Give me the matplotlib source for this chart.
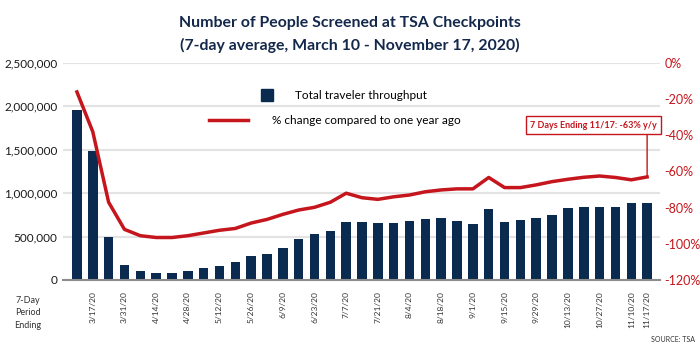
import numpy as np
import matplotlib
matplotlib.use('Agg')
import matplotlib.pyplot as plt
from matplotlib.lines import Line2D
from matplotlib.ticker import FuncFormatter

plt.rcParams['font.family'] = ['Lato', 'DejaVu Sans']

# weeks (7-day period ending), March 10 - November 17, 2020
weeks = ['3/10/20', '3/17/20', '3/24/20', '3/31/20', '4/7/20', '4/14/20', '4/21/20',
         '4/28/20', '5/5/20', '5/12/20', '5/19/20', '5/26/20', '6/2/20', '6/9/20',
         '6/16/20', '6/23/20', '6/30/20', '7/7/20', '7/14/20', '7/21/20', '7/28/20',
         '8/4/20', '8/11/20', '8/18/20', '8/25/20', '9/1/20', '9/8/20', '9/15/20',
         '9/22/20', '9/29/20', '10/6/20', '10/13/20', '10/20/20', '10/27/20',
         '11/3/20', '11/10/20', '11/17/20']
shown_labels = ['3/17/20', '3/31/20', '4/14/20', '4/28/20', '5/12/20', '5/26/20',
                '6/9/20', '6/23/20', '7/7/20', '7/21/20', '8/4/20', '8/18/20',
                '9/1/20', '9/15/20', '9/29/20', '10/13/20', '10/27/20', '11/10/20',
                '11/17/20']

throughput = [1958000, 1490000, 495000, 173000, 108000, 77000, 77000, 100000,
              138000, 165000, 207000, 273000, 296000, 372000, 468000, 530000,
              565000, 664000, 664000, 653000, 653000, 680000, 699000, 711000,
              683000, 645000, 820000, 672000, 691000, 718000, 749000, 833000,
              845000, 845000, 845000, 891000, 891000]

pct_change = [-16, -38, -77, -92, -95.5, -96.5, -96.5, -95.5, -94, -92.5, -91.5,
              -88.5, -86.5, -83.7, -81.3, -79.8, -77, -72, -74.5, -75.4, -74,
              -73, -71.2, -70.2, -69.6, -69.6, -63.3, -68.9, -68.9, -67.4, -65.6,
              -64.3, -63.2, -62.5, -63.3, -64.6, -63]

callout = '7 Days Ending 11/17: -63% y/y'

navy = '#0b2a50'
red = '#c4161c'
grid_c = '#e3e3e3'

x = np.arange(len(weeks))

fig = plt.figure(figsize=(7, 3.5), dpi=100)
ax = fig.add_axes([0.09, 0.2, 0.853, 0.62])

ax.bar(x, throughput, width=0.6, color=navy, zorder=3)
ax.set_ylim(0, 2500000)
ax.set_yticks(np.arange(0, 2500001, 500000))
ax.yaxis.set_major_formatter(FuncFormatter(lambda v, p: '{:,.0f}'.format(v)))
ax.set_xlim(-0.88, 36.82)
ax.grid(axis='y', color=grid_c, linewidth=1.5, zorder=0)
ax.set_axisbelow(True)
for s in ['top', 'left', 'right']:
    ax.spines[s].set_visible(False)
ax.spines['bottom'].set_color('#8c8c8c')
ax.spines['bottom'].set_linewidth(1.5)
ax.spines['bottom'].set_zorder(4)
ax.tick_params(axis='y', length=0, labelsize=8.5, colors='#1a1a1a', pad=4)

ticks = [weeks.index(w) for w in shown_labels]
ax.set_xticks(ticks)
ax.set_xticklabels(shown_labels, rotation=90, fontsize=6, color='#333333')
ax.tick_params(axis='x', length=0, pad=8)

ax2 = ax.twinx()
ax2.plot(x, pct_change, color=red, linewidth=2.5, zorder=5)
ax2.set_ylim(-120, 0)
ax2.set_yticks(np.arange(-120, 1, 20))
ax2.yaxis.set_major_formatter(FuncFormatter(lambda v, p: '{:.0f}%'.format(v)))
ax2.tick_params(axis='y', length=0, labelsize=9, colors=red, pad=3)
for s in ['top', 'left', 'right', 'bottom']:
    ax2.spines[s].set_visible(False)

# legend, two centred rows
leg1 = ax2.legend(handles=[Line2D([], [], marker='s', color=navy, linestyle='',
                                  markersize=8)],
                  labels=['Total traveler throughput'], loc='center',
                  bbox_to_anchor=(0.466, 0.848), frameon=False, fontsize=8.5,
                  handletextpad=1.4)
ax2.add_artist(leg1)
ax2.legend(handles=[Line2D([], [], color=red, linewidth=2.5)],
           labels=['% change compared to one year ago'], loc='center',
           bbox_to_anchor=(0.455, 0.733), frameon=False, fontsize=8.5,
           handlelength=3.3, handletextpad=2.0)

# callout for latest week
ax2.annotate('', xy=(x[-1], pct_change[-1]), xytext=(x[-1], -38.7),
             arrowprops=dict(arrowstyle='-', color=red, lw=1,
                             shrinkA=0, shrinkB=0))
ax2.text(x[-1] + 0.62, -34.3, callout, ha='right', va='center', fontsize=6.5,
         fontweight='bold', color=red, zorder=6,
         bbox=dict(boxstyle='square,pad=0.5', fc='white', ec=red, lw=1))

fig.text(0.5, 0.934, 'Number of People Screened at TSA Checkpoints',
         ha='center', va='center', fontsize=11.4, fontweight='bold', color='#14284b')
fig.text(0.5, 0.871, '(7-day average, March 10 - November 17, 2020)',
         ha='center', va='center', fontsize=11.4, fontweight='bold', color='#14284b')
fig.text(0.04, 0.106, '7-Day\nPeriod\nEnding', ha='center', va='center',
         fontsize=6.5, color='#333333', linespacing=1.5)
fig.text(0.993, 0.03, 'SOURCE: TSA', ha='right', va='center', fontsize=5,
         color='#333333')

plt.savefig('out.png', dpi=100)
